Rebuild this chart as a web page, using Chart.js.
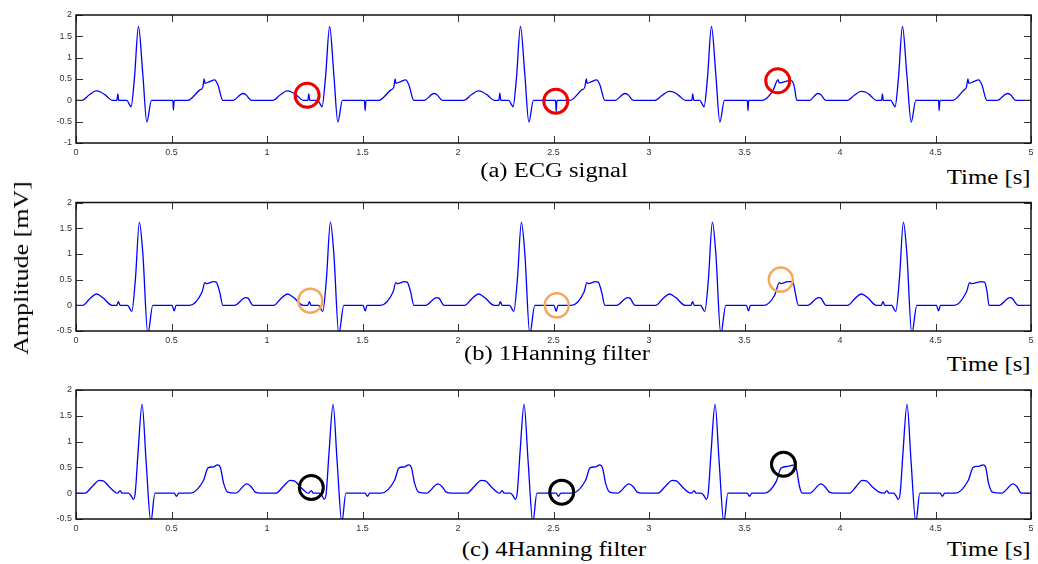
<!DOCTYPE html>
<html>
<head>
<meta charset="utf-8">
<script src="https://cdn.jsdelivr.net/npm/chart.js@4.4.0/dist/chart.umd.min.js"></script>
<style>
  body { margin: 0; background: #fff; width: 1038px; height: 564px; position: relative; overflow: hidden; }
  canvas { position: absolute; left: 0; }
  .cap { position: absolute; font-family: "Liberation Serif", "Times New Roman", serif; font-size: 20px; line-height: 1; white-space: nowrap; color: #000; }
  .mid { transform: translate(-50%, -50%) scaleX(1.23); }
  .rgt { right: 7px; transform: translateY(-50%) scaleX(1.24); transform-origin: right center; }
  #ylab { position: absolute; left: 21px; top: 268px; transform: translate(-50%, -50%) rotate(-90deg) scaleX(1.18);
          font-family: "Liberation Serif", "Times New Roman", serif; font-size: 22px; white-space: nowrap; }
</style>
</head>
<body>
<canvas id="c1" width="1060" height="160" style="top:0px"></canvas>
<canvas id="c2" width="1060" height="160" style="top:188px"></canvas>
<canvas id="c3" width="1060" height="161" style="top:375px"></canvas>

<div class="cap mid" style="left:554px;top:170px">(a) ECG signal</div>
<div class="cap rgt" style="top:177px">Time [s]</div>
<div class="cap mid" style="left:557px;top:353px">(b) 1Hanning filter</div>
<div class="cap rgt" style="top:364px">Time [s]</div>
<div class="cap mid" style="left:554px;top:549px">(c) 4Hanning filter</div>
<div class="cap rgt" style="top:549px">Time [s]</div>
<div id="ylab">Amplitude [mV]</div>

<script>
// (a) raw ECG signal
const timeA = [0,
  0.03,0.07,0.105,0.131,0.157,0.19, 0.214,0.219,0.224, 0.266,0.28,0.288,0.306,0.327,0.35,0.371,0.395,
  0.507,0.51,0.514, 0.586,0.647,0.664,0.671,0.675,0.70,0.726,0.743,0.769, 0.822,0.874,0.89,0.918,
  1.03,1.07,1.105,1.131,1.157,1.19, 1.214,1.219,1.224, 1.266,1.28,1.288,1.306,1.328,1.35,1.371,1.395,
  1.51,1.514,1.518, 1.586,1.647,1.664,1.671,1.675,1.70,1.726,1.743,1.769, 1.822,1.874,1.89,1.918,
  2.03,2.07,2.105,2.131,2.157,2.19, 2.214,2.219,2.224, 2.266,2.28,2.288,2.306,2.327,2.35,2.371,2.395,
  2.511,2.514,2.518, 2.586,2.647,2.664,2.672,2.676,2.70,2.726,2.743,2.769, 2.822,2.874,2.89,2.918,
  3.03,3.07,3.105,3.131,3.157,3.19, 3.224,3.229,3.234, 3.266,3.28,3.288,3.306,3.327,3.35,3.371,3.395,
  3.515,3.518,3.522, 3.595,3.648,3.676,3.681,3.744,3.76,3.774, 3.84,3.884,3.9,3.925,
  4.04,4.075,4.11,4.136,4.16,4.19, 4.218,4.222,4.226, 4.266,4.28,4.288,4.306,4.327,4.35,4.373,4.397,
  4.516,4.519,4.523, 4.59,4.648,4.662,4.67,4.674,4.70,4.726,4.743,4.769, 4.822,4.877,4.893,4.92, 5.0];
const ampA = [0,
  0,0.13,0.22,0.19,0.11,0, 0,0.15,0, 0,-0.1,-0.15,0.52,1.73,0.6,-0.51,0,
  0,-0.23,0, 0,0.24,0.31,0.5,0.4,0.44,0.48,0.36,0, 0,0.16,0.13,0,
  0,0.13,0.22,0.19,0.11,0, 0,0.15,0, 0,-0.1,-0.15,0.52,1.73,0.6,-0.51,0,
  0,-0.24,0, 0,0.24,0.31,0.5,0.4,0.44,0.48,0.36,0, 0,0.16,0.13,0,
  0,0.13,0.22,0.19,0.11,0, 0,0.17,0, 0,-0.1,-0.15,0.52,1.73,0.6,-0.51,0,
  0,-0.27,0, 0,0.24,0.31,0.5,0.4,0.44,0.48,0.36,0, 0,0.16,0.13,0,
  0,0.12,0.21,0.19,0.11,0, 0,0.15,0, 0,-0.1,-0.15,0.52,1.73,0.6,-0.51,0,
  0,-0.24,0, 0,0.22,0.485,0.41,0.47,0.34,0, 0,0.16,0.13,0,
  0,0.12,0.21,0.19,0.11,0, 0,0.15,0, 0,-0.1,-0.15,0.52,1.73,0.6,-0.51,0,
  0,-0.24,0, 0,0.24,0.31,0.5,0.4,0.44,0.48,0.36,0, 0,0.16,0.13,0, 0];

// (b) after one Hanning filter pass
const timeB = [0,
  0.035,0.07,0.108,0.14,0.189, 0.213,0.222,0.231, 0.27,0.292,0.311,0.332,0.35,0.376,0.402,
  0.503,0.514,0.524, 0.594,0.66,0.675,0.685,0.72,0.734,0.752,0.769, 0.83,0.888,0.90,0.927,
  1.035,1.07,1.108,1.14,1.189, 1.213,1.222,1.231, 1.27,1.292,1.311,1.332,1.35,1.376,1.402,
  1.503,1.514,1.524, 1.594,1.66,1.675,1.685,1.72,1.734,1.752,1.769, 1.83,1.888,1.90,1.927,
  2.035,2.07,2.108,2.14,2.189, 2.213,2.222,2.231, 2.27,2.292,2.311,2.332,2.35,2.376,2.402,
  2.503,2.514,2.524, 2.594,2.66,2.675,2.685,2.72,2.734,2.752,2.769, 2.83,2.888,2.90,2.927,
  3.035,3.07,3.108,3.14,3.189, 3.219,3.228,3.237, 3.27,3.292,3.311,3.332,3.35,3.376,3.402,
  3.51,3.521,3.531, 3.604,3.657,3.683,3.69,3.727,3.753,3.765,3.782, 3.83,3.888,3.90,3.927,
  4.04,4.075,4.112,4.144,4.19, 4.216,4.225,4.234, 4.27,4.292,4.311,4.332,4.35,4.376,4.402,
  4.505,4.516,4.526, 4.598,4.662,4.679,4.689,4.74,4.757,4.77,4.78, 4.833,4.889,4.90,4.933, 5.0];
const ampB = [0,
  0,0.12,0.22,0.15,0, 0,0.07,0, 0,-0.12,0.51,1.62,1.0,-0.56,0,
  0,-0.11,0, 0,0.26,0.44,0.42,0.46,0.45,0.26,0, 0,0.15,0.14,0,
  0,0.12,0.22,0.15,0, 0,0.07,0, 0,-0.12,0.51,1.62,1.0,-0.56,0,
  0,-0.11,0, 0,0.26,0.44,0.42,0.46,0.45,0.26,0, 0,0.15,0.14,0,
  0,0.12,0.22,0.15,0, 0,0.07,0, 0,-0.12,0.51,1.62,1.0,-0.56,0,
  0,-0.12,0, 0,0.26,0.44,0.42,0.46,0.45,0.26,0, 0,0.15,0.14,0,
  0,0.12,0.22,0.15,0, 0,0.07,0, 0,-0.12,0.51,1.62,1.0,-0.56,0,
  0,-0.11,0, 0,0.19,0.44,0.42,0.46,0.46,0.26,0, 0,0.15,0.14,0,
  0,0.12,0.22,0.15,0, 0,0.07,0, 0,-0.12,0.51,1.62,1.0,-0.56,0,
  0,-0.11,0, 0,0.26,0.44,0.42,0.46,0.45,0.26,0, 0,0.15,0.14,0, 0];

// (c) after four Hanning filter passes
const timeC = [0,
  0.047,0.085,0.122,0.143,0.175,0.205,0.217, 0.231,0.241, 0.274,0.29,0.30,0.31,0.325,0.346,0.367,0.392,0.413,
  0.514,0.526,0.538, 0.598,0.668,0.691,0.72,0.741,0.755,0.773,0.794, 0.834,0.895,0.916,0.939,0.965,
  1.047,1.085,1.122,1.143,1.175,1.205,1.217, 1.232,1.242, 1.274,1.29,1.30,1.31,1.325,1.346,1.367,1.392,1.413,
  1.514,1.526,1.538, 1.598,1.668,1.691,1.72,1.741,1.755,1.773,1.794, 1.834,1.895,1.916,1.939,1.965,
  2.047,2.085,2.122,2.143,2.175,2.205,2.217, 2.231,2.241, 2.274,2.29,2.30,2.31,2.325,2.346,2.367,2.392,2.413,
  2.514,2.526,2.538, 2.598,2.668,2.691,2.72,2.741,2.755,2.773,2.794, 2.834,2.895,2.916,2.939,2.965,
  3.047,3.085,3.122,3.143,3.175,3.205,3.222, 3.236,3.246, 3.274,3.29,3.30,3.31,3.325,3.346,3.367,3.392,3.413,
  3.514,3.526,3.538, 3.604,3.665,3.692,3.727,3.762,3.771,3.788,3.802, 3.84,3.901,3.92,3.945,3.97,
  4.05,4.085,4.116,4.138,4.17,4.205,4.232, 4.246,4.256, 4.28,4.295,4.305,4.315,4.33,4.351,4.372,4.397,4.418,
  4.524,4.536,4.548, 4.605,4.672,4.697,4.725,4.749,4.762,4.778,4.798, 4.845,4.907,4.926,4.95, 5.0];
const ampC = [0,
  0,0.13,0.25,0.24,0.12,0.02,0, 0.05,0, 0,-0.06,-0.12,0.0,0.8,1.72,0.62,-0.56,0,
  0,-0.06,0, 0,0.25,0.49,0.51,0.55,0.51,0.19,0.02, 0,0.18,0.13,0.02,0,
  0,0.13,0.25,0.24,0.12,0.02,0, 0.05,0, 0,-0.06,-0.12,0.0,0.8,1.72,0.62,-0.56,0,
  0,-0.06,0, 0,0.25,0.49,0.51,0.55,0.51,0.19,0.02, 0,0.18,0.13,0.02,0,
  0,0.13,0.25,0.24,0.12,0.02,0, 0.05,0, 0,-0.06,-0.12,0.0,0.8,1.72,0.62,-0.56,0,
  0,-0.06,0, 0,0.25,0.49,0.51,0.55,0.51,0.19,0.02, 0,0.18,0.13,0.02,0,
  0,0.13,0.25,0.24,0.12,0.02,0, 0.05,0, 0,-0.06,-0.12,0.0,0.8,1.72,0.62,-0.56,0,
  0,-0.06,0, 0,0.22,0.49,0.52,0.55,0.49,0.13,0, 0,0.18,0.13,0.02,0,
  0,0.13,0.25,0.24,0.12,0.02,0, 0.05,0, 0,-0.06,-0.12,0.0,0.8,1.72,0.62,-0.56,0,
  0,-0.06,0, 0,0.25,0.5,0.52,0.55,0.51,0.19,0.02, 0,0.18,0.13,0, 0];

// highlighted spots (circle centres)
const markTimeA = [1.21, 2.512, 3.674];
const markAmpA  = [0.12, -0.02, 0.46];
const markTimeB = [1.227, 2.517, 3.69];
const markAmpB  = [0.09, 0.0, 0.5];
const markTimeC = [1.232, 2.543, 3.704];
const markAmpC  = [0.11, 0.02, 0.56];

const xTicks = [0, 0.5, 1, 1.5, 2, 2.5, 3, 3.5, 4, 4.5, 5];

function pts(xs, ys) { return xs.map((x, i) => ({x: x, y: ys[i]})); }

// matlab style box with inward ticks
const boxTicks = {
  id: 'boxTicks',
  afterDraw(chart) {
    const {ctx, chartArea: a, scales: {x, y}} = chart;
    ctx.save();
    ctx.strokeStyle = '#333';
    ctx.lineWidth = 1;
    ctx.beginPath();
    x.ticks.forEach(t => {
      const px = Math.round(x.getPixelForValue(t.value)) + 0.5;
      ctx.moveTo(px, a.bottom); ctx.lineTo(px, a.bottom - 7);
      ctx.moveTo(px, a.top); ctx.lineTo(px, a.top + 7);
    });
    y.ticks.forEach(t => {
      const py = Math.round(y.getPixelForValue(t.value)) + 0.5;
      ctx.moveTo(a.left, py); ctx.lineTo(a.left + 7, py);
      ctx.moveTo(a.right, py); ctx.lineTo(a.right - 7, py);
    });
    ctx.stroke();
    ctx.strokeStyle = '#111';
    ctx.lineWidth = 1.5;
    ctx.strokeRect(a.left, a.top, a.right - a.left, a.bottom - a.top);
    ctx.restore();
  }
};

function makeChart(id, xs, ys, mx, my, ringColor, ringWidth, ymin, area) {
  const chart = new Chart(document.getElementById(id), {
    type: 'line',
    data: {
      datasets: [
        {
          data: pts(xs, ys),
          borderColor: '#0000ff',
          borderWidth: 1.3,
          pointRadius: 0,
          cubicInterpolationMode: 'monotone',
          order: 2
        },
        {
          type: 'scatter',
          data: pts(mx, my),
          pointRadius: 12,
          pointBorderWidth: ringWidth,
          pointBorderColor: ringColor,
          pointBackgroundColor: 'rgba(0,0,0,0)',
          order: 1
        }
      ]
    },
    options: {
      responsive: false,
      animation: false,
      events: [],
      layout: { padding: { top: 9, right: 29, left: 0, bottom: 0 } },
      plugins: { legend: { display: false }, tooltip: { enabled: false } },
      scales: {
        x: {
          type: 'linear', min: 0, max: 5,
          afterBuildTicks: s => { s.ticks = xTicks.map(v => ({value: v})); },
          afterFit: s => { s.height = 17; },
          grid: { display: false, drawTicks: false },
          border: { display: false },
          ticks: { padding: 4, maxRotation: 0, color: '#333', font: { family: 'Liberation Sans', size: 9 },
                   callback: v => String(v) }
        },
        y: {
          min: ymin, max: 2,
          ticks: { stepSize: 0.5, padding: 4, color: '#333', font: { family: 'Liberation Sans', size: 9 },
                   callback: v => String(v) },
          afterFit: s => { s.width = 76; },
          grid: { display: false, drawTicks: false },
          border: { display: false }
        }
      }
    },
    plugins: [boxTicks]
  });
  // nudge the padding so the plot box sits where the reference has it
  const a = chart.chartArea;
  const p = chart.options.layout.padding;
  p.right += a.right - area.right;
  p.top += area.top - a.top;
  p.bottom += a.bottom - area.bottom;
  chart.update();
}

makeChart('c1', timeA, ampA, markTimeA, markAmpA, '#ee0000', 3, -1,  {top: 9, bottom: 143, right: 1031});
makeChart('c2', timeB, ampB, markTimeB, markAmpB, '#f7a65e', 2.5, -0.5, {top: 9, bottom: 143, right: 1031});
makeChart('c3', timeC, ampC, markTimeC, markAmpC, '#000000', 3, -0.5, {top: 9, bottom: 144, right: 1031});
</script>
</body>
</html>
